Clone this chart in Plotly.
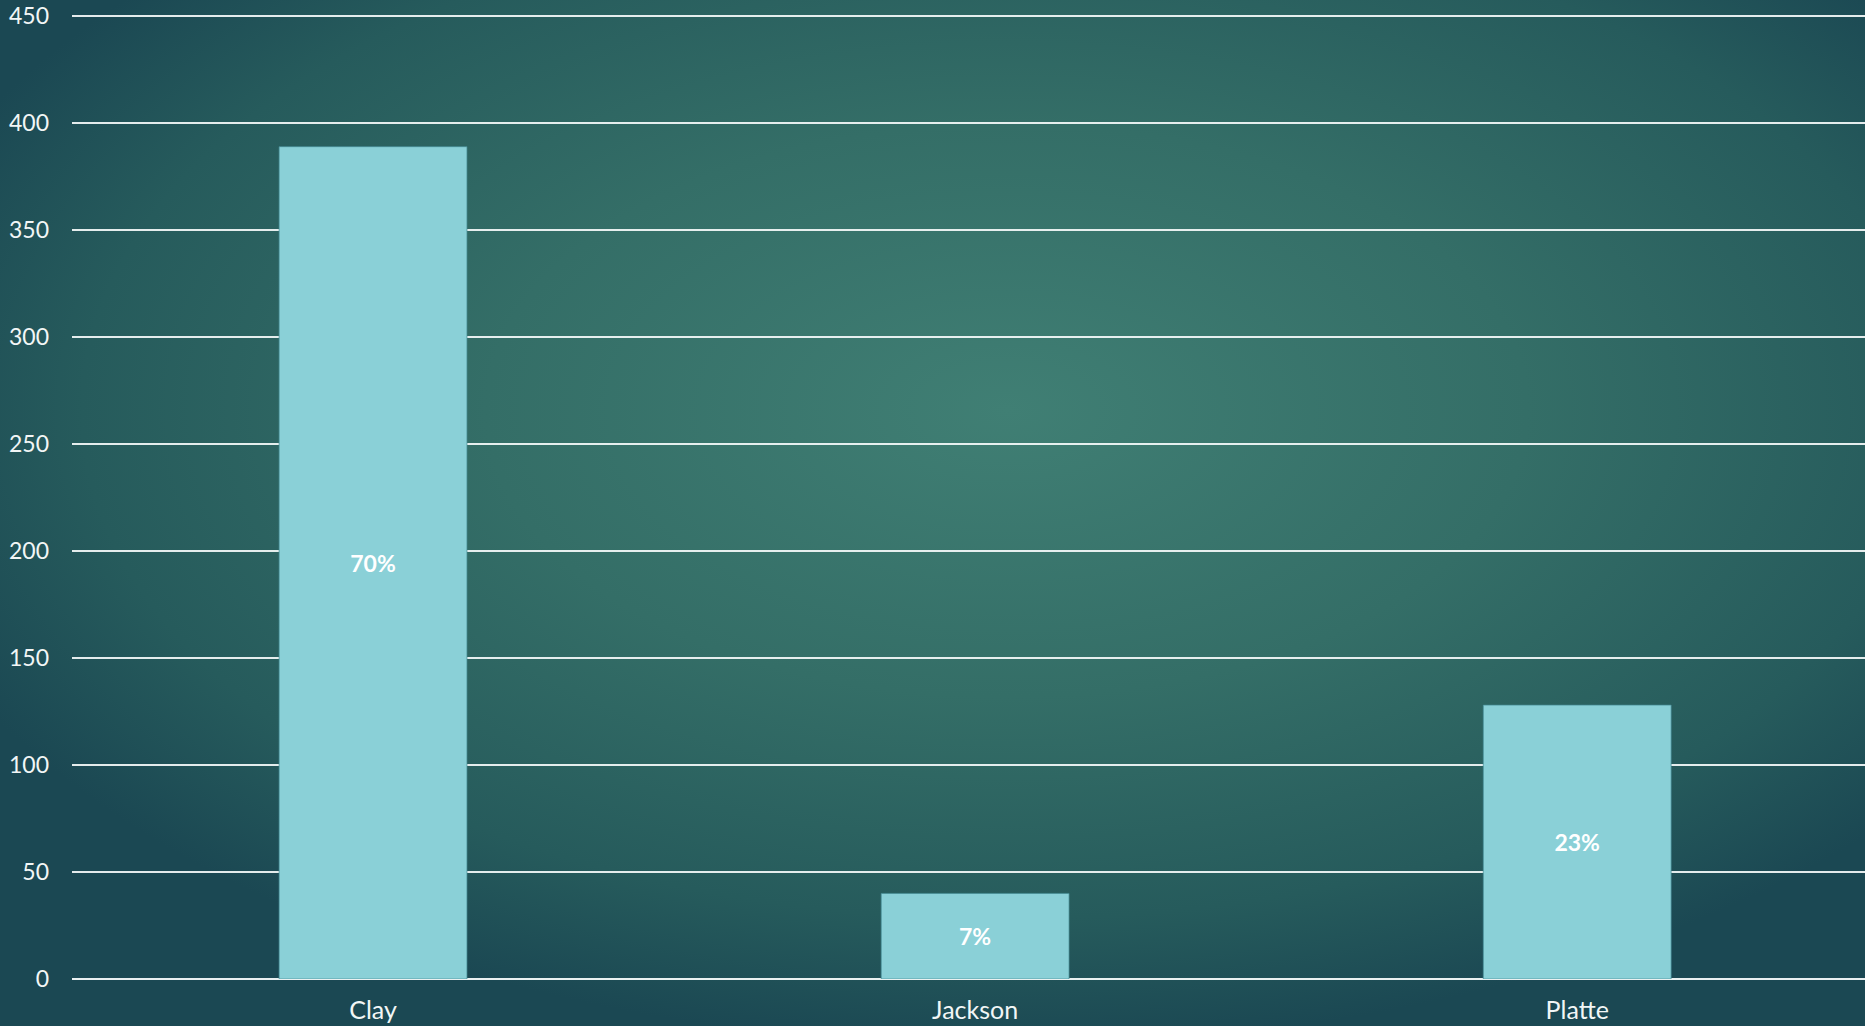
import base64
import plotly.graph_objects as go

categories = ["Clay", "Jackson", "Platte"]
values = [389, 40, 128]
pct_labels = ["70%", "7%", "23%"]
y_ticks = [0, 50, 100, 150, 200, 250, 300, 350, 400, 450]

W, H = 1865, 1026
ML, MR, MT, MB = 72, 0, 14, 47

svg = f'''<svg xmlns="http://www.w3.org/2000/svg" width="{W}" height="{H}" viewBox="0 0 {W} {H}">
<defs><radialGradient id="g" cx="0.54" cy="0.40" r="0.62" gradientUnits="objectBoundingBox">
<stop offset="0" stop-color="#407f74"/>
<stop offset="0.45" stop-color="#346e67"/>
<stop offset="0.8" stop-color="#265b5c"/>
<stop offset="1" stop-color="#1b4853"/>
</radialGradient></defs>
<rect width="{W}" height="{H}" fill="url(#g)"/></svg>'''
src = "data:image/svg+xml;base64," + base64.b64encode(svg.encode()).decode()

pw = W - ML - MR
ph = H - MT - MB

fig = go.Figure()
fig.add_trace(go.Bar(
    x=categories, y=values, text=pct_labels,
    textposition="inside", insidetextanchor="middle",
    textfont=dict(family="Lato", size=23, color="white", weight="bold"),
    marker=dict(color="#8ad0d7", line=dict(color="rgba(70,140,150,0.7)", width=1)),
    width=0.312, hoverinfo="skip",
))

fig.add_layout_image(dict(
    source=src, xref="paper", yref="paper",
    x=-ML / pw, y=1 + MT / ph, sizex=W / pw, sizey=H / ph,
    xanchor="left", yanchor="top", sizing="stretch", layer="below",
))

fig.update_layout(
    width=W, height=H,
    margin=dict(l=ML, r=MR, t=MT, b=MB),
    paper_bgcolor="#1f4f57", plot_bgcolor="rgba(0,0,0,0)",
    showlegend=False,
    font=dict(family="Lato", color="white"),
    xaxis=dict(range=[-0.5, 2.478], showgrid=False, zeroline=False, showline=False,
               tickfont=dict(size=25, color="#f2f6f6"), ticks="", ticklabelstandoff=14),
    yaxis=dict(range=[0, 451], tickvals=y_ticks, showgrid=True,
               gridcolor="rgba(245,250,250,0.92)", gridwidth=2,
               zeroline=True, zerolinecolor="rgba(245,250,250,0.95)", zerolinewidth=2,
               tickfont=dict(size=23, color="#f2f6f6"), ticks="", ticklabelstandoff=22),
)

fig.write_html(
    "out.html",
    config={"displayModeBar": False},
    post_script="document.body.style.margin='0';document.body.style.overflow='hidden';",
)
